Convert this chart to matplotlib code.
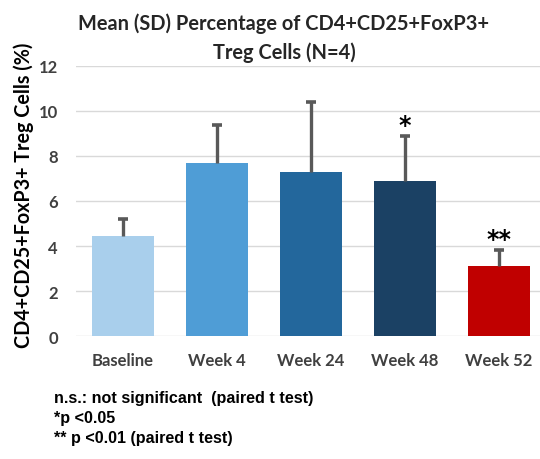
import matplotlib
matplotlib.use("Agg")
import matplotlib.pyplot as plt
import numpy as np

categories = ["Baseline", "Week 4", "Week 24", "Week 48", "Week 52"]
means = [4.46, 7.67, 7.30, 6.88, 3.10]
sds = [0.74, 1.71, 3.10, 2.01, 0.74]
signif = ["", "", "", "*", "**"]
colors = ["#A9CFEC", "#4F9DD6", "#23679C", "#1B4164", "#C00000"]
yticks = [0, 2, 4, 6, 8, 10, 12]

title = "Mean (SD) Percentage of CD4+CD25+FoxP3+\nTreg Cells (N=4)"
ylabel = "CD4+CD25+FoxP3+ Treg Cells (%)"
footnote = ["n.s.: not significant  (paired t test)", "*p <0.05", "** p <0.01 (paired t test)"]

W, H = 540, 460
fig = plt.figure(figsize=(W / 100, H / 100), dpi=100)
ax = fig.add_axes([76 / W, (H - 337.3) / H, (W - 76) / W, (337.3 - 66.7) / H])

x = np.arange(len(categories))
m = np.array(means)
s = np.array(sds)
ax.bar(x, m, width=0.66, color=colors, zorder=2)
ax.vlines(x, m, m + s, colors="#595959", linewidth=2.4, zorder=3)
ax.plot(x, m + s, linestyle="none", marker="_", markersize=6.5,
        markeredgewidth=2.6, color="#595959", zorder=3)

for xi, top, lab in zip(x, m + s, signif):
    if lab:
        ax.text(xi, top - 0.05, lab, ha="center", va="bottom", fontsize=17,
                fontweight="bold", color="black", family="DejaVu Sans")

ax.set_ylim(0, 12)
ax.set_xlim(-0.5, -0.5 + (W - 76) / 94)
ax.set_yticks(yticks)
ax.set_yticklabels([str(v) for v in yticks])
ax.set_xticks(x)
ax.set_xticklabels(categories)
ax.yaxis.grid(True, color="#D9D9D9", linewidth=1.0, zorder=0)
ax.set_axisbelow(True)
for sp in ax.spines.values():
    sp.set_visible(False)
ax.tick_params(axis="both", length=0)
ax.tick_params(axis="y", pad=13)
ax.tick_params(axis="x", pad=11)
for lab in ax.get_yticklabels() + ax.get_xticklabels():
    lab.set_family("Lato")
    lab.set_fontweight("bold")
    lab.set_fontsize(12)
    lab.set_color("#404040")

fig.text(284 / W, 1 - 38.5 / H, title, ha="center", va="center", fontsize=14.4,
         fontweight="bold", family="Lato", color="#262626", linespacing=1.5)
fig.text(24 / W, 1 - 195 / H, ylabel, ha="center", va="center", rotation=90,
         fontsize=14.2, fontweight="bold", family="Lato", color="black")

for i, line in enumerate(footnote):
    fig.text(54 / W, 1 - (399 + 19.5 * i) / H, line, ha="left", va="center",
             fontsize=11.6, fontweight="bold", family="Liberation Sans", color="black")

fig.savefig("out.png", dpi=100, facecolor="white")
